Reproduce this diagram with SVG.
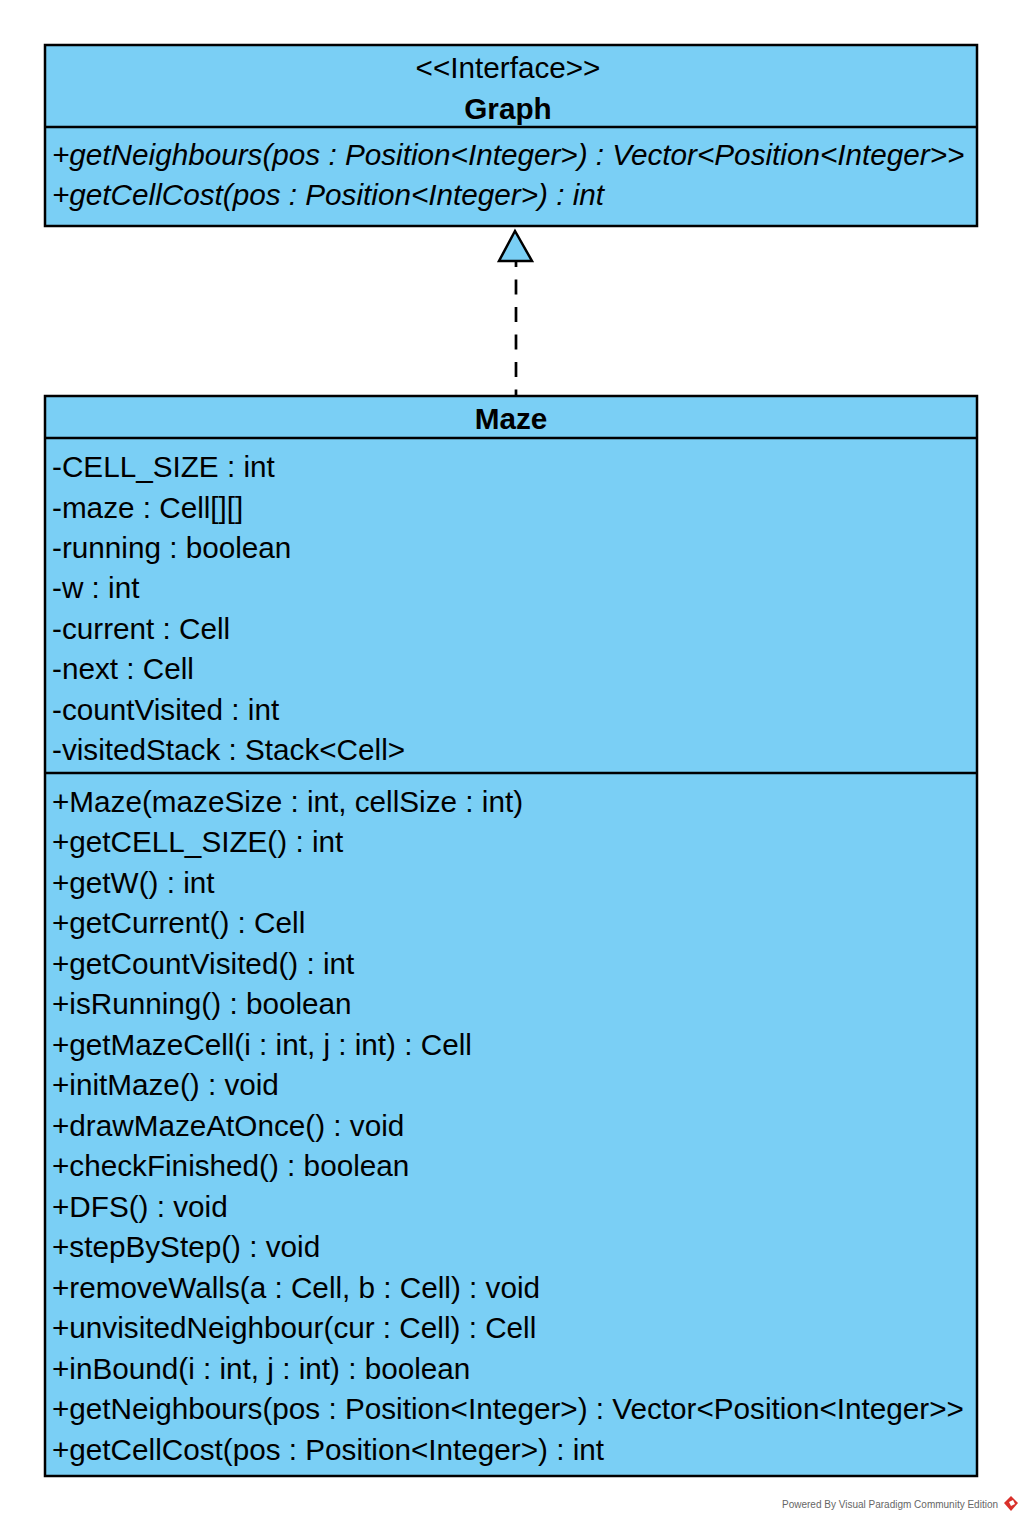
<svg xmlns="http://www.w3.org/2000/svg" width="1023" height="1521" viewBox="0 0 1023 1521">
<style>
.box{fill:#7ACFF5;stroke:#000;stroke-width:2.5}
.sep{stroke:#000;stroke-width:2.5}
.t{font-family:"Liberation Sans",Arial,sans-serif;font-size:29.7px;fill:#000}
.b{font-weight:bold;text-anchor:middle}
.c{text-anchor:middle}
.i{font-style:italic}
.pw{font-family:"Liberation Sans",Arial,sans-serif;font-size:10px;fill:#666}
</style>
<rect width="1023" height="1521" fill="#fff"/>
<g id="connectors">
<line x1="516" y1="262" x2="516" y2="396" stroke="#000" stroke-width="2.7" stroke-dasharray="15,12.5" stroke-dashoffset="10"/>
<polygon points="515,231 499,261 532,261" fill="#7ACFF5" stroke="#000" stroke-width="2.5" stroke-linejoin="miter"/>
</g>
<g id="Graph">
<rect class="box" x="45" y="45" width="932" height="181"/>
<line class="sep" x1="45" y1="127" x2="977" y2="127"/>
<text class="t c" x="508" y="78">&lt;&lt;Interface&gt;&gt;</text>
<text class="t b" x="508" y="119">Graph</text>
<text class="t i" x="52" y="165">+getNeighbours(pos : Position&lt;Integer&gt;) : Vector&lt;Position&lt;Integer&gt;&gt;</text>
<text class="t i" x="52" y="205">+getCellCost(pos : Position&lt;Integer&gt;) : int</text>
</g>
<g id="Maze">
<rect class="box" x="45" y="396" width="932" height="1080"/>
<line class="sep" x1="45" y1="438" x2="977" y2="438"/>
<line class="sep" x1="45" y1="773" x2="977" y2="773"/>
<text class="t b" x="511" y="429">Maze</text>
<text class="t" x="52" y="477">-CELL_SIZE : int</text>
<text class="t" x="52" y="517.5">-maze : Cell[][]</text>
<text class="t" x="52" y="558">-running : boolean</text>
<text class="t" x="52" y="598">-w : int</text>
<text class="t" x="52" y="639">-current : Cell</text>
<text class="t" x="52" y="679">-next : Cell</text>
<text class="t" x="52" y="720">-countVisited : int</text>
<text class="t" x="52" y="760">-visitedStack : Stack&lt;Cell&gt;</text>
<text class="t" x="52" y="812">+Maze(mazeSize : int, cellSize : int)</text>
<text class="t" x="52" y="852">+getCELL_SIZE() : int</text>
<text class="t" x="52" y="893">+getW() : int</text>
<text class="t" x="52" y="933">+getCurrent() : Cell</text>
<text class="t" x="52" y="974">+getCountVisited() : int</text>
<text class="t" x="52" y="1014">+isRunning() : boolean</text>
<text class="t" x="52" y="1055">+getMazeCell(i : int, j : int) : Cell</text>
<text class="t" x="52" y="1095">+initMaze() : void</text>
<text class="t" x="52" y="1136">+drawMazeAtOnce() : void</text>
<text class="t" x="52" y="1176">+checkFinished() : boolean</text>
<text class="t" x="52" y="1217">+DFS() : void</text>
<text class="t" x="52" y="1257">+stepByStep() : void</text>
<text class="t" x="52" y="1298">+removeWalls(a : Cell, b : Cell) : void</text>
<text class="t" x="52" y="1338">+unvisitedNeighbour(cur : Cell) : Cell</text>
<text class="t" x="52" y="1379">+inBound(i : int, j : int) : boolean</text>
<text class="t" x="52" y="1419">+getNeighbours(pos : Position&lt;Integer&gt;) : Vector&lt;Position&lt;Integer&gt;&gt;</text>
<text class="t" x="52" y="1460">+getCellCost(pos : Position&lt;Integer&gt;) : int</text>
</g>
<g id="footer">
<text class="pw" x="782" y="1508">Powered By  Visual Paradigm Community Edition</text>
<polygon points="1011,1496 1018,1503 1011,1511 1004,1503" fill="#d9302b"/>
<polygon points="1009,1502 1013,1500 1015,1504 1011,1506" fill="#fff"/>
</g>
</svg>
